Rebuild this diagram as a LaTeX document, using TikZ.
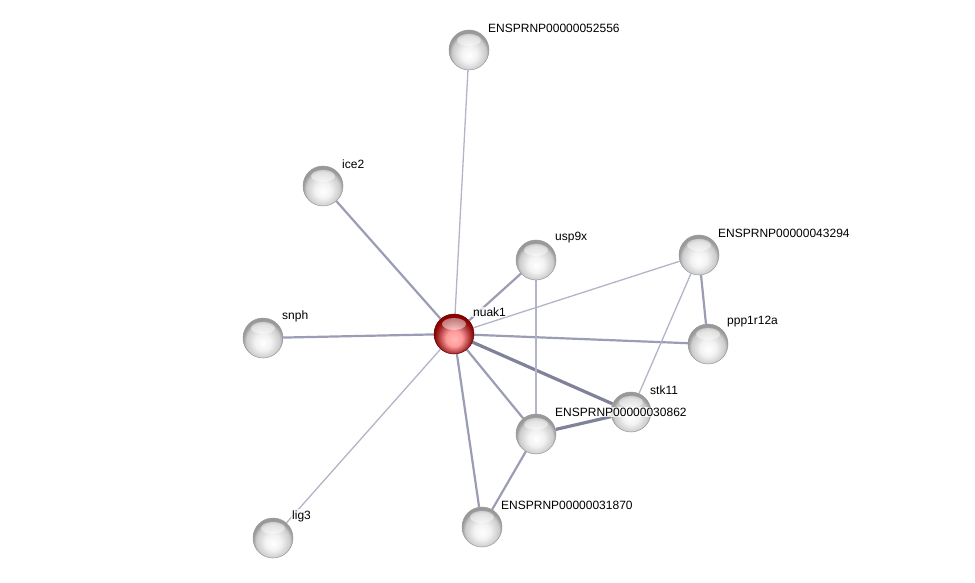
\documentclass[tikz,border=0pt]{standalone}
\usepackage{fontspec}
\setmainfont{Liberation Sans}
\usetikzlibrary{backgrounds}
\definecolor{edgelo}{HTML}{B2B4C8}
\definecolor{edgemid}{HTML}{9A9DB4}
\definecolor{edgehi}{HTML}{7F8299}
\pgfdeclareradialshading{greyball}{\pgfpoint{0bp}{-7bp}}{color(0bp)=(white); color(10bp)=(black!5); color(21bp)=(black!20); color(25bp)=(black!40); color(50bp)=(black!40)}
\pgfdeclareradialshading{redball}{\pgfpoint{0bp}{-7bp}}{color(0bp)=(red!28); color(10bp)=(red!40); color(21bp)=(red!55!black!85); color(25bp)=(red!55!black); color(50bp)=(red!55!black)}

\begin{document}
\begin{tikzpicture}[x=1pt,y=-1pt,
  prot/.style={circle,draw=black!40,line width=.5pt,minimum size=40pt,inner sep=0pt,shading=greyball,
    path picture={\fill[white,opacity=.45] ([yshift=10pt]path picture bounding box.center) ellipse (12pt and 6pt);}},
  seed/.style={prot,draw=red!40!black,shading=redball},
  lbl/.style={anchor=west,font=\fontsize{12}{14}\selectfont,fill=white,fill opacity=.75,text opacity=1,inner sep=1pt},
  weak/.style={draw=edgelo,line width=1.3pt},
  mid/.style={draw=edgemid,line width=2.2pt},
  strong/.style={draw=edgehi,line width=3.2pt}]
\useasboundingbox (0,0) rectangle (975,583);
\foreach \n/\x/\y in {e52556/469/50,ice/323/186,usp/536/260,e43294/699/255,snph/263/338,ppp/708/344,
  stk/631/412,e30862/536/434,e31870/482/527,lig/273/538}
  {\node[prot] (\n) at (\x,\y) {};}
\node[seed] (nuak) at (454,334) {};
% labels sit up and to the right of each ball
\foreach \n/\t in {e52556/ENSPRNP00000052556,ice/ice2,usp/usp9x,e43294/ENSPRNP00000043294,snph/snph,
  ppp/ppp1r12a,stk/stk11,e30862/ENSPRNP00000030862,e31870/ENSPRNP00000031870,lig/lig3,nuak/nuak1}
  {\node[lbl] (\n-l) at ([shift={(18,-22)}]\n) {\t};}
\begin{scope}[on background layer]
\foreach \a/\b/\s in {nuak/e52556/weak,nuak/ice/mid,nuak/usp/mid,nuak/e43294/weak,nuak/snph/mid,
  nuak/ppp/mid,nuak/stk/strong,nuak/e30862/mid,nuak/e31870/mid,nuak/lig/weak,usp/e30862/weak,
  e43294/ppp/mid,e43294/stk/weak,e30862/stk/strong,e30862/e31870/mid}
  \draw[\s] (\a) -- (\b);
\end{scope}
\end{tikzpicture}
\end{document}
